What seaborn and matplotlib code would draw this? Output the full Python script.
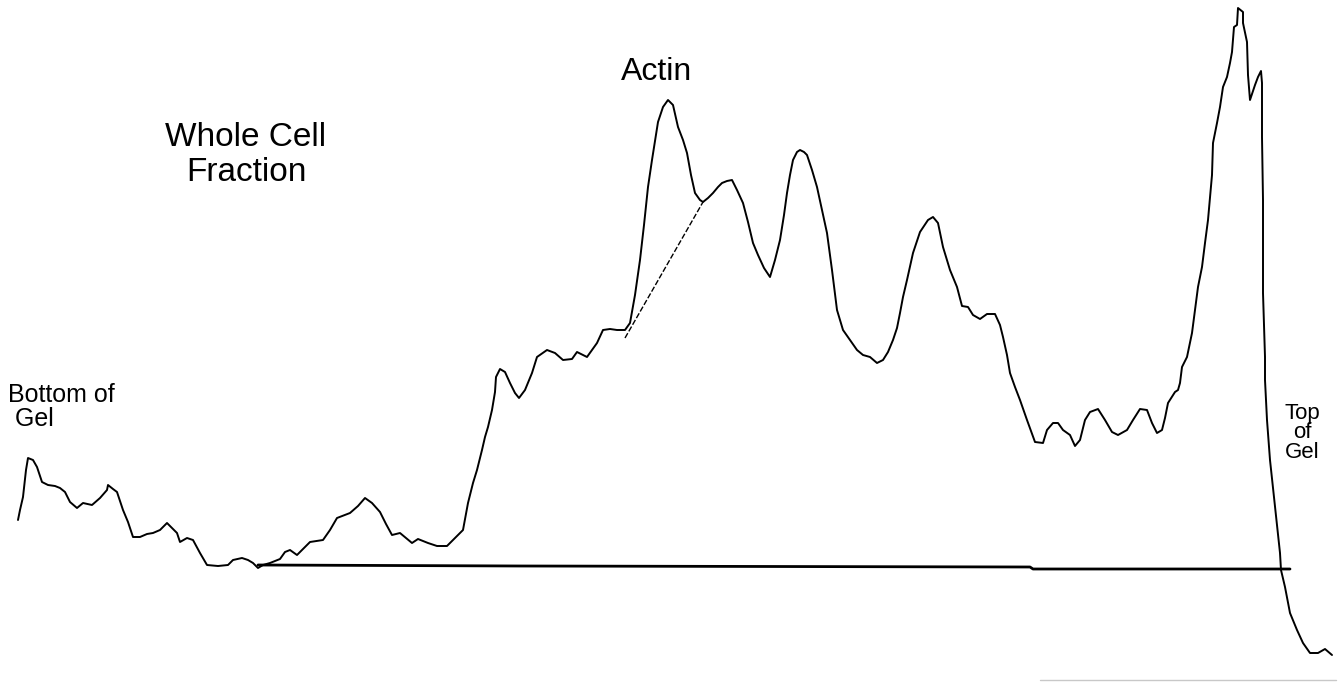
import matplotlib
matplotlib.use("Agg")
import matplotlib.pyplot as plt
import seaborn as sns
import pandas as pd

# Densitometer scan of a gel lane, whole cell fraction.
# Position runs from the bottom of the gel (left) to the top (right);
# the vertical coordinate is the scan trace height on the chart (down = lower density).
scan_pos = [
    18, 20, 23, 26, 28, 33, 37, 42, 48, 55, 60, 65, 70, 77, 83, 92, 100, 107, 108, 113,
    117, 123, 128, 133, 140, 147, 153, 160, 167, 172, 177, 180, 187, 193, 200, 207, 218, 228, 233, 242,
    248, 253, 258, 263, 270, 280, 285, 290, 297, 303, 310, 323, 330, 337, 350, 358, 365, 372, 380, 386,
    392, 400, 406, 412, 418, 428, 437, 447, 453, 458, 463, 468, 473, 477, 482, 485, 488, 492, 495, 496,
    500, 505, 510, 515, 519, 525, 532, 537, 547, 555, 563, 572, 577, 587, 597, 603, 610, 617, 625, 630,
    635, 640, 644, 648, 652, 658, 663, 668, 673, 678, 683, 687, 691, 695, 700, 703, 708, 713, 718, 722,
    727, 732, 737, 743, 748, 753, 758, 764, 770, 775, 780, 784, 787, 790, 793, 797, 800, 804, 807, 812,
    817, 822, 827, 832, 837, 843, 850, 857, 863, 870, 877, 883, 888, 893, 897, 900, 903, 907, 913, 920,
    928, 933, 938, 943, 950, 957, 962, 968, 973, 980, 987, 995, 1000, 1003, 1007, 1010, 1015, 1020, 1027, 1035,
    1043, 1047, 1053, 1058, 1063, 1070, 1075, 1080, 1085, 1090, 1098, 1105, 1112, 1118, 1127, 1133, 1140, 1147, 1152, 1157,
    1162, 1165, 1168, 1175, 1178, 1180, 1182, 1187, 1192, 1195, 1198, 1202, 1205, 1208, 1210, 1212, 1213, 1217, 1220, 1223,
    1227, 1230, 1232, 1234, 1237, 1238, 1243, 1243, 1247, 1248, 1250, 1255, 1258, 1261, 1262, 1262, 1263, 1263, 1265, 1265,
    1267, 1270, 1275, 1280, 1281, 1285, 1290, 1297, 1303, 1310, 1318, 1325, 1332,
]
trace_y = [
    520, 510, 497, 470, 458, 460, 467, 482, 485, 486, 488, 492, 502, 508, 503, 505, 498, 490, 485, 489,
    492, 510, 522, 537, 537, 534, 533, 530, 523, 528, 533, 542, 538, 540, 553, 565, 566, 565, 560, 558,
    560, 563, 568, 565, 563, 559, 552, 550, 555, 549, 542, 540, 530, 518, 513, 506, 498, 503, 512, 524,
    535, 533, 538, 543, 539, 543, 546, 546, 540, 535, 530, 503, 483, 470, 450, 437, 427, 410, 392, 377,
    369, 372, 383, 393, 398, 390, 373, 357, 350, 353, 360, 359, 352, 357, 343, 330, 329, 330, 330, 323,
    295, 260, 225, 187, 160, 122, 107, 100, 105, 127, 140, 153, 175, 193, 200, 202, 198, 193, 187, 183,
    181, 180, 190, 203, 222, 243, 255, 268, 277, 260, 240, 215, 193, 175, 160, 152, 150, 152, 155, 170,
    187, 210, 233, 270, 310, 330, 340, 350, 355, 357, 363, 360, 352, 340, 328, 313, 297, 280, 253, 232,
    220, 217, 223, 247, 270, 287, 306, 307, 315, 319, 314, 314, 325, 337, 355, 373, 387, 400, 420, 442,
    443, 430, 423, 423, 430, 435, 446, 440, 420, 412, 409, 420, 432, 435, 430, 420, 409, 410, 423, 433,
    430, 418, 403, 392, 390, 383, 367, 357, 333, 310, 287, 267, 243, 220, 198, 175, 143, 123, 107, 87,
    77, 63, 52, 27, 25, 8, 12, 23, 42, 75, 100, 85, 77, 71, 83, 137, 200, 293, 357, 380,
    420, 460, 507, 553, 570, 587, 613, 630, 643, 653, 653, 649, 655,
]

# Integration baseline under the profile
base_pos = [258, 520, 1030, 1033, 1290]
base_y = [565, 566, 567, 569, 569]

# Drop line separating the actin peak from its shoulder
split_pos = [625, 703]
split_y = [338, 202]

labels = ["Whole Cell\nFraction", "Actin", "Bottom of\n Gel", "Top\nof\nGel"]

sns.set_theme(style="white")
plt.rcParams["font.family"] = ["Liberation Sans", "DejaVu Sans"]

fig = plt.figure(figsize=(13.44, 6.82), dpi=100)
ax = fig.add_axes([0, 0, 1, 1])

trace = pd.DataFrame({"pos": scan_pos, "y": trace_y})
base = pd.DataFrame({"pos": base_pos, "y": base_y})
split = pd.DataFrame({"pos": split_pos, "y": split_y})

sns.lineplot(data=trace, x="pos", y="y", sort=False, estimator=None,
             color="black", linewidth=1.4, ax=ax)
sns.lineplot(data=base, x="pos", y="y", sort=False, estimator=None,
             color="black", linewidth=2.0, ax=ax)
sns.lineplot(data=split, x="pos", y="y", sort=False, estimator=None,
             color="black", linewidth=1.0, linestyle=(0, (4, 1.5)), ax=ax)

# faint edge line along the lower border of the scan
ax.plot([1040, 1336], [680, 680], color="#c8c8c8", linewidth=1.0)

ax.text(246, 155, labels[0], ha="center", va="center", fontsize=24,
        linespacing=1.2, color="black")
ax.text(657, 72, labels[1], ha="center", va="center", fontsize=23, color="black")
ax.text(8, 407, labels[2], ha="left", va="center", fontsize=18,
        linespacing=0.95, color="black")
ax.text(1302, 433, labels[3], ha="center", va="center", fontsize=16,
        linespacing=0.9, color="black")

ax.set_xlim(0, 1344)
ax.set_ylim(682, 0)
ax.axis("off")

fig.savefig("out.png", dpi=100, facecolor="white")
